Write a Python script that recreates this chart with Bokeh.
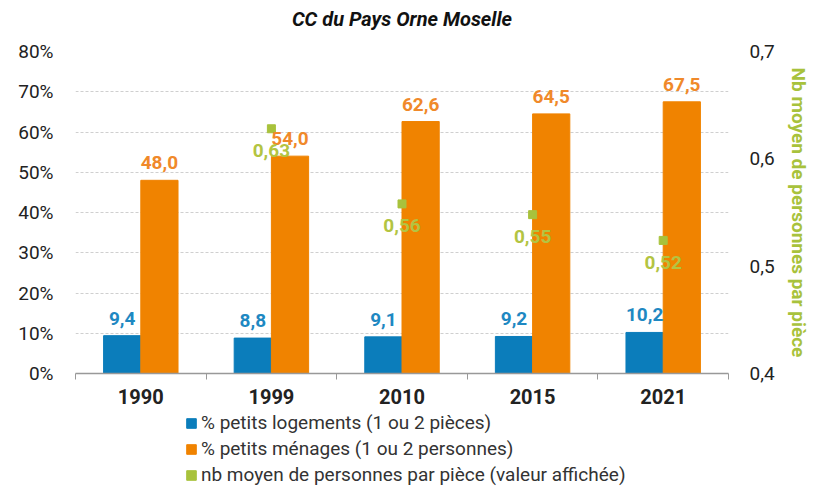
from bokeh.plotting import figure
from bokeh.layouts import column
from bokeh.models import (ColumnDataSource, Range1d, LinearAxis, FixedTicker,
                          PrintfTickFormatter, CustomJSTickFormatter, Legend, LegendItem)
from bokeh.core.properties import value
from bokeh.embed import file_html
from bokeh.resources import INLINE

title = "CC du Pays Orne Moselle"
years = ["1990", "1999", "2010", "2015", "2021"]
petits_logements = [9.4, 8.8, 9.1, 9.2, 10.2]
petits_menages = [48.0, 54.0, 62.6, 64.5, 67.5]
nb_moyen = [0.628, 0.558, 0.548, 0.524]
nb_moyen_years = ["1999", "2010", "2015", "2021"]
nb_moyen_labels = ["0,63", "0,56", "0,55", "0,52"]
left_ticks = [0, 10, 20, 30, 40, 50, 60, 70, 80]
right_ticks = [0.4, 0.5, 0.6, 0.7]
legend_labels = ["% petits logements (1 ou 2 pièces)",
                 "% petits ménages (1 ou 2 personnes)",
                 "nb moyen de personnes par pièce (valeur affichée)"]

BLUE = "#0b7dbb"
ORANGE = "#f08300"
GREEN = "#a8c23c"
FONT = "Roboto"

bw = 0.285
idx = [i + 0.5 for i in range(len(years))]
bars = ColumnDataSource(dict(
    xb=[x - bw / 2 for x in idx], xo=[x + bw / 2 for x in idx],
    b=petits_logements, o=petits_menages,
    bl=[f"{v:.1f}".replace(".", ",") for v in petits_logements],
    ol=[f"{v:.1f}".replace(".", ",") for v in petits_menages],
))
gsrc = ColumnDataSource(dict(
    x=[years.index(y) + 0.5 for y in nb_moyen_years],
    y=nb_moyen, lab=nb_moyen_labels,
))

# ---- title strip ----
tf = figure(width=813, height=30, output_backend="svg", toolbar_location=None,
            x_axis_type=None, y_axis_type=None, min_border=0, outline_line_color=None,
            x_range=Range1d(0, 1), y_range=Range1d(0, 1))
tf.xgrid.grid_line_color = None
tf.ygrid.grid_line_color = None
tf.text(x=[0.5], y=[0.4], text=[title], text_align="center", text_baseline="middle",
        text_font=value(FONT), text_font_size="20px", text_font_style="bold italic",
        text_color="#111111")

# ---- main chart ----
p = figure(width=813, height=382, output_backend="svg", toolbar_location=None,
           x_range=Range1d(0, len(years)), y_range=Range1d(0, 80),
           min_border_left=75, min_border_right=85, min_border_top=21,
           min_border_bottom=39, outline_line_color=None)
p.extra_y_ranges = {"right": Range1d(0.4, 0.7)}

rb = p.vbar(x="xb", top="b", width=bw, source=bars, color=BLUE)
ro = p.vbar(x="xo", top="o", width=bw, source=bars, color=ORANGE)
rg = p.rect(x="x", y="y", width=8, height=8, width_units="screen", height_units="screen",
            source=gsrc, color=GREEN, y_range_name="right")

p.text(x="xb", y="b", text="bl", source=bars, text_align="center", text_baseline="bottom",
       y_offset=-11, text_font=value(FONT), text_font_size="19px", text_font_style="bold",
       text_color="#1e88c2")
p.text(x="xo", y="o", text="ol", source=bars, text_align="center", text_baseline="bottom",
       y_offset=-11, text_font=value(FONT), text_font_size="19px", text_font_style="bold",
       text_color="#f0892a")
p.text(x="x", y="y", text="lab", source=gsrc, y_range_name="right", text_align="center",
       text_baseline="middle", y_offset=22, text_font=value(FONT), text_font_size="19px",
       text_font_style="bold", text_color="#b3c442")

xa = p.xaxis[0]
xa.ticker = FixedTicker(ticks=idx, minor_ticks=list(range(len(years) + 1)))
xa.formatter = CustomJSTickFormatter(args=dict(years=years),
                                     code="return years[Math.floor(tick)];")
xa.major_tick_line_color = None
xa.minor_tick_line_color = "#999999"
xa.minor_tick_in = 0
xa.minor_tick_out = 6
xa.axis_line_color = "#999999"
xa.axis_line_width = 1.5
xa.major_label_text_font = FONT
xa.major_label_text_font_size = "20px"
xa.major_label_text_font_style = "bold"
xa.major_label_text_color = "#222222"
xa.major_label_standoff = 9

ya = p.yaxis[0]
ya.ticker = FixedTicker(ticks=left_ticks)
ya.formatter = PrintfTickFormatter(format="%d%%")
ya.axis_line_color = None
ya.major_tick_line_color = None
ya.minor_tick_line_color = None
ya.major_label_text_font = FONT
ya.major_label_text_font_size = "19px"
ya.major_label_text_color = "#222222"
ya.major_label_standoff = 16

ra = LinearAxis(y_range_name="right", ticker=FixedTicker(ticks=right_ticks),
                formatter=CustomJSTickFormatter(code="return tick.toFixed(1).replace('.', ',');"))
ra.axis_line_color = None
ra.major_tick_line_color = None
ra.minor_tick_line_color = None
ra.major_label_text_font = FONT
ra.major_label_text_font_size = "19px"
ra.major_label_text_color = "#222222"
ra.major_label_standoff = 15
ra.axis_label = "Nb moyen de personnes par pièce"
ra.axis_label_text_font = FONT
ra.axis_label_text_font_size = "19px"
ra.axis_label_text_font_style = "bold"
ra.axis_label_text_color = GREEN
ra.axis_label_standoff = 9
p.add_layout(ra, "right")

p.xgrid.grid_line_color = None
p.ygrid.ticker = FixedTicker(ticks=left_ticks)
p.ygrid.grid_line_color = "#cfcfcf"
p.ygrid.grid_line_dash = "3 2"

# ---- legend strip ----
lg = figure(width=813, height=74, output_backend="svg", toolbar_location=None,
            x_axis_type=None, y_axis_type=None, min_border=0, outline_line_color=None,
            x_range=Range1d(0, 1), y_range=Range1d(0, 1))
lg.xgrid.grid_line_color = None
lg.ygrid.grid_line_color = None
lb = lg.vbar(x="xb", top="b", width=bw, source=bars, color=BLUE, visible=False)
lo = lg.vbar(x="xo", top="o", width=bw, source=bars, color=ORANGE, visible=False)
lgr = lg.vbar(x="x", top="y", width=bw, source=gsrc, color=GREEN, visible=False)

legend = Legend(items=[LegendItem(label=t, renderers=[r])
                       for t, r in zip(legend_labels, [lb, lo, lgr])],
                location=(110, 0), orientation="vertical")
legend.padding = 0
legend.margin = 0
legend.spacing = 3
legend.border_line_color = None
legend.background_fill_alpha = 0
legend.inactive_fill_alpha = 0
legend.click_policy = "none"
legend.glyph_width = 12
legend.glyph_height = 12
legend.label_height = 22
legend.label_standoff = 4
legend.label_text_font = FONT
legend.label_text_font_size = "19px"
legend.label_text_color = "#333333"
legend.label_text_baseline = "middle"
lg.add_layout(legend, "center")

open("out.html", "w").write(file_html(column(tf, p, lg), INLINE))
